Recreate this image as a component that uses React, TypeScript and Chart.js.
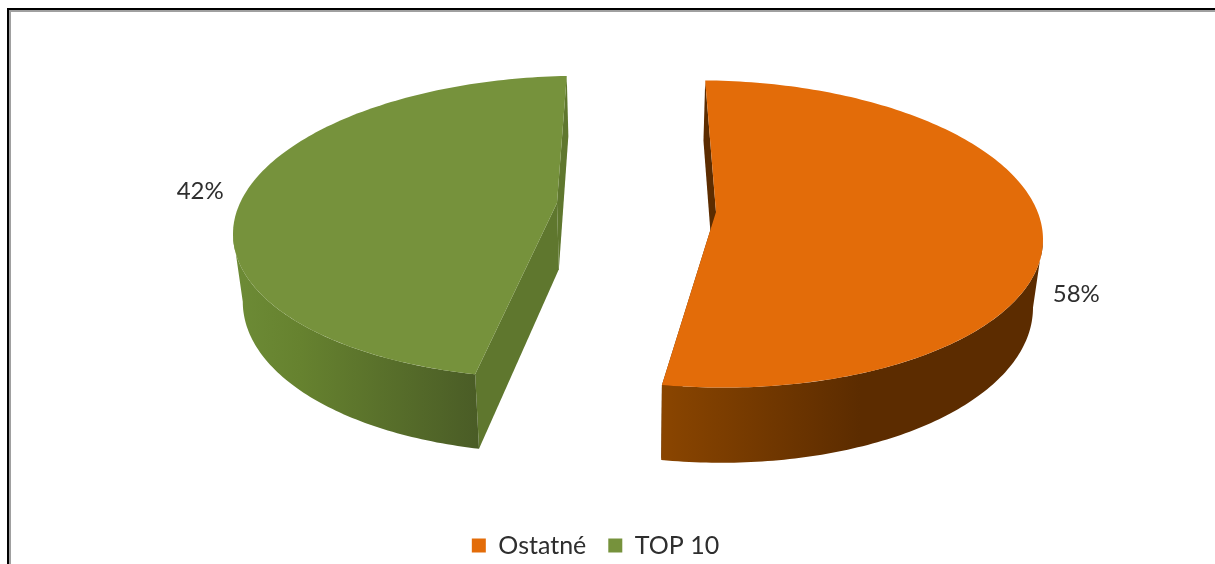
import React, { useEffect, useRef } from "react";
import Chart from "chart.js/auto";

const CATEGORIES = ["Ostatné", "TOP 10"];
const SHARES = [58, 42];
const FACE_COLORS = ["#E36C09", "#76923C"];
const FONT = "Lato, sans-serif";

// Styling of the tilted-pie projection (px relative to the projection centre).
const CENTRE = { x: 633.5, y: 234 };
const DEPTH_SCALE = 0.9756;
const DEPTH_BACK = 60;
const DEPTH_GROWTH = 0.0487;
const BACK_EDGE = -158;
const SLICE_STYLE = [
  {
    cx: 77.5, cy: 0, rx: 332, ry: 153.5, tilt: 5.5, apex: [82.5, -22], phi0: -1, sweep: 189.5 / 208.8,
    wallFrom: 90, wallTo: 999, cut: "#5C2C00",
    wall: [[662, "#8A4500"], [860, "#5C2C00"]], label: [34, 45],
  },
  {
    cx: -68.5, cy: -7, rx: 332, ry: 151, tilt: -7, apex: [-76.5, -31], phi0: 195.7, sweep: 164.6 / 151.2,
    wallFrom: -999, wallTo: 270, cut: "#5F772E",
    wall: [[243, "#6C8A35"], [300, "#66822F"], [478, "#4A5C26"]], label: [-36, -22],
  },
];

const pie3d = {
  id: "pie3d",
  beforeDatasetsDraw(chart: any) {
    const { ctx } = chart;
    const arcs = chart.getDatasetMeta(0).data;
    const order = arcs.map((_: any, i: number) => i).reverse();
    const bottom = (p: number[]) => [
      CENTRE.x + DEPTH_SCALE * (p[0] - CENTRE.x),
      p[1] + DEPTH_BACK + (p[1] - CENTRE.y - BACK_EDGE) * DEPTH_GROWTH,
    ];
    const poly = (pts: number[][], fill: any) => {
      ctx.beginPath();
      pts.forEach((p, k) => (k ? ctx.lineTo(p[0], p[1]) : ctx.moveTo(p[0], p[1])));
      ctx.closePath();
      ctx.fillStyle = fill;
      ctx.fill();
    };
    for (const i of order) {
      const arc = arcs[i];
      const s = SLICE_STYLE[i];
      const theta = (a: number) => (a * 180) / Math.PI + 90;
      const t0 = theta(arc.startAngle);
      const t1 = theta(arc.endAngle);
      const phiOf = (t: number) => s.phi0 + (t - t0) * s.sweep;
      const rim = (phi: number) => {
        const r = (phi * Math.PI) / 180;
        return [
          CENTRE.x + s.cx + s.rx * Math.sin(r),
          CENTRE.y + s.cy - s.ry * Math.cos(r) + s.tilt * Math.sin(r),
        ];
      };
      const p0 = phiOf(t0);
      const p1 = phiOf(t1);
      const samples = (a: number, b: number) => {
        const out: number[][] = [];
        const n = Math.max(2, Math.ceil(Math.abs(b - a)));
        for (let k = 0; k <= n; k++) out.push(rim(a + ((b - a) * k) / n));
        return out;
      };
      const apex = [CENTRE.x + s.apex[0], CENTRE.y + s.apex[1]];
      const a0 = rim(p0);
      const a1 = rim(p1);
      poly([apex, a0, bottom(a0), bottom(apex)], s.cut);
      poly([apex, a1, bottom(a1), bottom(apex)], s.cut);
      const w0 = Math.max(p0, s.wallFrom);
      const w1 = Math.min(p1, s.wallTo);
      const top = samples(w0, w1);
      const grad = ctx.createLinearGradient(s.wall[0][0], 0, s.wall[s.wall.length - 1][0], 0);
      const span = s.wall[s.wall.length - 1][0] - s.wall[0][0];
      s.wall.forEach((st: any) => grad.addColorStop((st[0] - s.wall[0][0]) / span, st[1]));
      poly([...top, ...top.map(bottom).reverse()], grad);
      poly([apex, ...samples(p0, p1)], arc.options.backgroundColor);

      const mid = rim((p0 + p1) / 2);
      ctx.fillStyle = "#2E2E2E";
      ctx.font = `24px ${FONT}`;
      ctx.textAlign = "center";
      ctx.textBaseline = "middle";
      ctx.fillText(`${SHARES[i]}%`, mid[0] + s.label[0], mid[1] + s.label[1]);
    }
    return false;
  },
};

export default function App() {
  const ref = useRef<HTMLCanvasElement>(null);
  useEffect(() => {
    const chart = new Chart(ref.current!, {
      type: "pie",
      data: {
        labels: CATEGORIES,
        datasets: [{ data: SHARES, backgroundColor: FACE_COLORS, borderWidth: 0 }],
      },
      options: {
        animation: false,
        responsive: false,
        layout: { padding: { right: 24 } },
        plugins: {
          tooltip: { enabled: false },
          legend: {
            position: "bottom",
            labels: {
              boxWidth: 14,
              boxHeight: 14,
              padding: 22,
              color: "#2E2E2E",
              font: { family: FONT, size: 25 },
            },
          },
        },
      },
      plugins: [pie3d],
    } as any);
    return () => chart.destroy();
  }, []);
  return (
    <div style={{ position: "fixed", inset: 0, overflow: "hidden", background: "#fff" }}>
      <div
        style={{
          position: "absolute",
          left: 7,
          top: 8,
          width: 1300,
          height: 700,
          borderLeft: "2.5px solid #000",
          borderTop: "2.5px solid #000",
          boxShadow: "inset 2px 2px 0 #a0a0a0",
        }}
      />
      <canvas ref={ref} width={1215} height={568} style={{ position: "absolute", left: 0, top: 0, display: "block" }} />
    </div>
  );
}
